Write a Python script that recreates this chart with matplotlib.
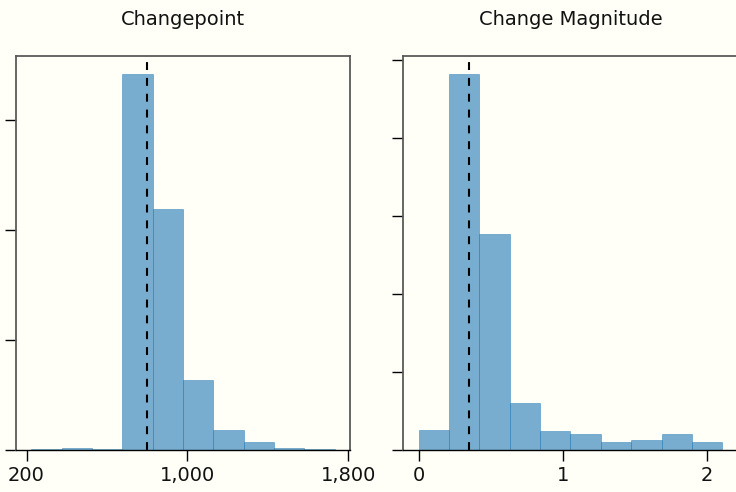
import matplotlib
matplotlib.use("Agg")
import matplotlib.pyplot as plt
import matplotlib.ticker as mticker

# posterior histograms (density) for the two model parameters
CP_EDGES = [223, 374, 525, 676, 827, 978, 1129, 1279, 1430, 1581, 1732]
CP_DENSITY = [0.000009, 0.000018, 0.000009, 0.003409, 0.002188,
              0.000636, 0.000182, 0.000073, 0.000018, 0.000009]
CP_MEDIAN = 800

MAG_EDGES = [0.0, 0.211, 0.421, 0.632, 0.842, 1.053, 1.264, 1.474, 1.685, 1.895, 2.106]
MAG_DENSITY = [0.128, 2.41, 1.388, 0.302, 0.122, 0.103, 0.051, 0.064, 0.103, 0.051]
MAG_MEDIAN = 0.347

CP_XTICKS = [200, 1000, 1800]
CP_YTICKS = [0, 0.001, 0.002, 0.003]
MAG_XTICKS = [0, 1, 2]
MAG_YTICKS = [0, 0.5, 1.0, 1.5, 2.0, 2.5]

BG = "#fffff8"
plt.rcParams["font.family"] = ["DejaVu Sans"]

fig = plt.figure(figsize=(7.36, 4.92), dpi=100, facecolor=BG)
ax1 = fig.add_axes([0.0217, 0.0854, 0.4538, 0.8014])
ax2 = fig.add_axes([0.548, 0.0854, 0.4542, 0.8014])


def panel(ax, edges, dens, median, xticks, yticks, title):
    ax.set_facecolor(BG)
    ax.hist(edges[:-1], bins=edges, weights=dens, color="C0", alpha=0.6,
            edgecolor="C0", linewidth=0.5)
    ax.axvline(median, ymax=0.988, color="black", linestyle=(0, (3.8, 3.8)), linewidth=1.5)
    ax.set_xticks(xticks)
    ax.set_yticks(yticks)
    ax.yaxis.set_major_formatter(mticker.NullFormatter())
    ax.xaxis.set_major_formatter(mticker.StrMethodFormatter("{x:,.0f}"))
    ax.tick_params(length=8, width=1, color="black", labelsize=14, labelcolor="#111111")
    for side in ["left", "top", "right"]:
        ax.spines[side].set_color("#5a5a5a")
        ax.spines[side].set_linewidth(1.3)
    ax.spines["bottom"].set_color("black")
    ax.spines["bottom"].set_linewidth(1.0)
    ax.set_title(title, fontsize=14, pad=22, color="#111111")


panel(ax1, CP_EDGES, CP_DENSITY, CP_MEDIAN, CP_XTICKS, CP_YTICKS, "Changepoint")
panel(ax2, MAG_EDGES, MAG_DENSITY, MAG_MEDIAN, MAG_XTICKS, MAG_YTICKS, "Change Magnitude")

fig.savefig("out.png", dpi=100, facecolor=BG)
